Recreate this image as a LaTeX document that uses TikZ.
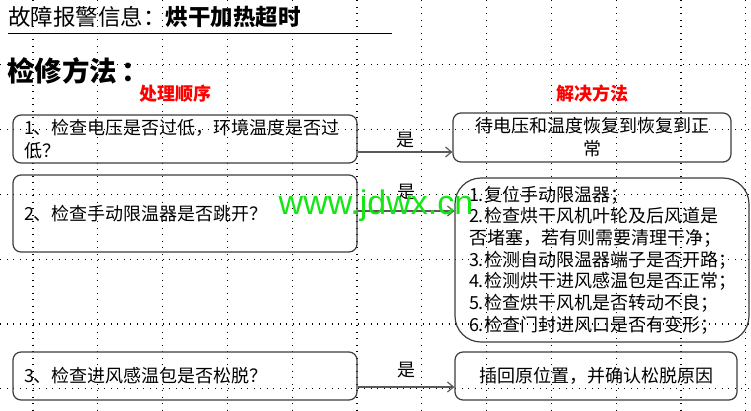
\documentclass[tikz,border=0pt]{standalone}
\usepackage{fontspec}
\setmainfont{Noto Sans CJK SC}
\newfontfamily\webfont{Liberation Sans}
\usetikzlibrary{arrows.meta,calc}
\definecolor{edge}{RGB}{60,60,60}
\definecolor{webgreen}{RGB}{20,230,20}

\begin{document}
\begin{tikzpicture}[x=1pt,y=-1pt,
  box/.style={draw=edge,line width=1.2pt,rounded corners=8pt,inner sep=0pt},
  body/.style={font=\fontsize{18}{23}\selectfont},
  hint/.style={text=red,inner sep=0pt,font=\bfseries\fontsize{18}{20}\selectfont},
  yes/.style={inner sep=0pt,font=\fontsize{18}{20}\selectfont},
  flow/.style={draw=edge!85,line width=1.2pt,-{Straight Barb[length=6pt,width=10pt]}},
  griddot/.style={line width=1.1pt,dash pattern=on 1.1pt off 5.4pt}]
\useasboundingbox (0,0) rectangle (751,410);
% dotted grid
\foreach \gx in {0,...,11}
  \draw[griddot] (33+64.8*\gx,0) -- (33+64.8*\gx,410);
\foreach \gy in {1,...,6}
  \draw[griddot] (0,64.8*\gy) -- (751,64.8*\gy);

% headings
\node[anchor=west,inner sep=0pt,font=\fontsize{22.5}{26}\selectfont] (title) at (8,17) {故障报警信息：\textbf{烘干加热超时}};
\draw[line width=1pt] (8,33) -- (392,33);
\node[anchor=west,inner sep=0pt,font=\bfseries\fontsize{27.5}{30}\selectfont] (method) at (7,71) {检修方法\hspace{0.15em}：};
\node[hint] (order) at (175,94) {处理顺序};
\node[hint] (solve) at (592,94) {解决方法};

% checks
\node[box,body,minimum width=344pt,minimum height=48pt,text width=322pt,align=left] (q1) at (185,139) {1、检查电压是否过低，环境温度是否过\\低？};
\node[box,body,minimum width=344pt,minimum height=77pt,text width=322pt,align=left] (q2) at (185,213.5) {2、检查手动限温器是否跳开？};
\node[box,body,minimum width=344pt,minimum height=48pt,text width=322pt,align=left] (q3) at (185,376) {3、检查进风感温包是否松脱？};

% solutions
\node[box,body,minimum width=278pt,minimum height=49pt,align=center] (s1) at (592,137.5) {待电压和温度恢复到恢复到正\\常};
\node[box,rounded corners=26pt,minimum width=294pt,minimum height=164pt,text width=266pt,align=left,font=\fontsize{18}{21.7}\selectfont] (s2) at (602,260) {1.复位手动限温器；\\2.检查烘干风机叶轮及后风道是\\否堵塞，若有则需要清理干净；\\3.检测自动限温器端子是否开路；\\4.检测烘干进风感温包是否正常；\\5.检查烘干风机是否转动不良；\\6.检查门封进风口是否有变形；};
\node[box,body,minimum width=282pt,minimum height=48pt,align=center] (s3) at (596,376) {插回原位置，并确认松脱原因};

% arrows
\draw[flow] ([yshift=-13pt]q1.east) coordinate (a1) -- (a1 -| s1.west);
\node[yes] (y1) at ([yshift=12pt]$(a1)!0.5!(a1 -| s1.west)$) {是};
\draw[flow] ([yshift=2.5pt]q2.east) coordinate (a2) -- (a2 -| s2.west);
\node[yes] (y2) at ([yshift=19pt]$(a2)!0.5!(a2 -| s2.west)$) {是};
\draw[flow] ([yshift=-11pt]q3.east) coordinate (a3) -- (a3 -| s3.west);
\node[yes] (y3) at ([yshift=17pt]$(a3)!0.5!(a3 -| s3.west)$) {是};

% watermark
\node[text=webgreen,inner sep=0pt,font=\webfont\fontsize{34}{36}\selectfont] (wm) at (376,206) {www.jdwx.cn};
\end{tikzpicture}
\end{document}
